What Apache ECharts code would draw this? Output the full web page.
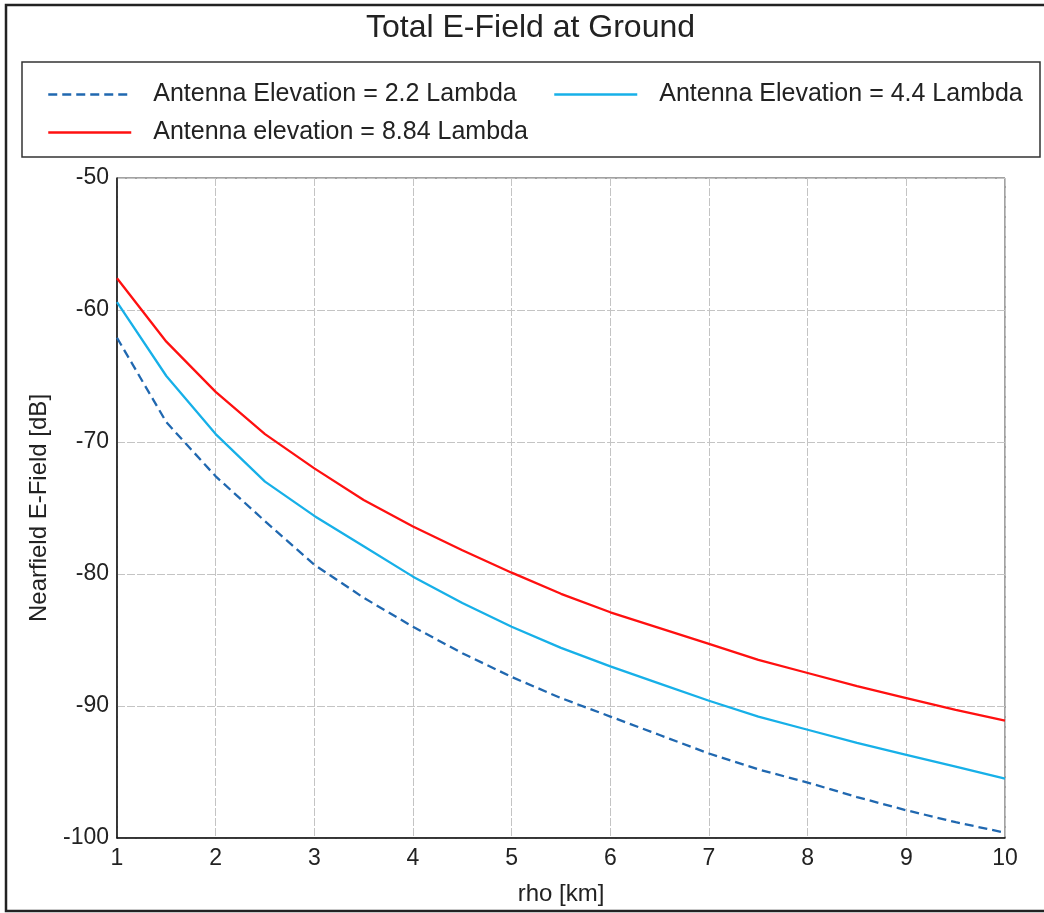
<!DOCTYPE html>
<html>
<head>
<meta charset="utf-8">
<script src="https://cdn.jsdelivr.net/npm/echarts@6/dist/echarts.min.js"></script>
<style>
html,body{margin:0;padding:0;background:#fff;}
#chart{width:1044px;height:913px;}
</style>
</head>
<body>
<div id="chart"></div>
<script>
const rho = [1, 1.5, 2, 2.5, 3, 3.5, 4, 4.5, 5, 5.5, 6, 6.5, 7, 7.5, 8, 8.5, 9, 9.5, 10];
const elev22 = [-62.1, -68.5, -72.6, -76.0, -79.3, -81.8, -84.0, -86.0, -87.8, -89.4, -90.8, -92.2, -93.6, -94.8, -95.8, -96.9, -97.9, -98.8, -99.6];
const elev44 = [-59.4, -65.0, -69.4, -73.0, -75.6, -77.9, -80.2, -82.2, -84.0, -85.6, -87.0, -88.3, -89.6, -90.8, -91.8, -92.8, -93.7, -94.6, -95.5];
const elev884 = [-57.6, -62.4, -66.2, -69.4, -72.0, -74.4, -76.4, -78.2, -79.9, -81.5, -82.9, -84.1, -85.3, -86.5, -87.5, -88.5, -89.4, -90.3, -91.1];
const seriesNames = ['Antenna Elevation = 2.2 Lambda', 'Antenna Elevation = 4.4 Lambda', 'Antenna elevation = 8.84 Lambda'];
const titleText = 'Total E-Field at Ground';
const xName = 'rho [km]';
const yName = 'Nearfield E-Field [dB]';

const pair = (ys) => rho.map((x, i) => [x, ys[i]]);
const font = 'Liberation Sans, Arial, sans-serif';
const legendCommon = {
  orient: 'horizontal', padding: 0, itemWidth: 83, itemHeight: 14,
  itemStyle: { opacity: 0 },
  lineStyle: { width: 2.5 },
  textStyle: { fontFamily: font, fontSize: 25, color: '#222', padding: [0, 0, 0, 17] },
  selectedMode: false
};

const chart = echarts.init(document.getElementById('chart'), null, { renderer: 'canvas' });
chart.setOption({
  backgroundColor: '#fff',
  animation: false,
  title: {
    text: titleText, left: 366, top: 12, padding: 0,
    textStyle: { fontFamily: font, fontSize: 32, fontWeight: 'normal', color: '#222' }
  },
  legend: [
    Object.assign({}, legendCommon, { data: [seriesNames[0]], left: 47, top: 82 }),
    Object.assign({}, legendCommon, { data: [seriesNames[1]], left: 553, top: 82 }),
    Object.assign({}, legendCommon, { data: [seriesNames[2]], left: 47, top: 120 })
  ],
  grid: { left: 117, top: 178, width: 888, height: 660, show: true, borderColor: '#444', borderWidth: 1, containLabel: false },
  xAxis: {
    type: 'value', min: 1, max: 10, interval: 1,
    name: xName, nameLocation: 'middle', nameGap: 44,
    nameTextStyle: { fontFamily: font, fontSize: 24, color: '#222' },
    axisLine: { show: true, onZero: false, lineStyle: { color: '#111', width: 1.5 } },
    axisTick: { show: false },
    axisLabel: { fontFamily: font, fontSize: 23, color: '#222', margin: 9 },
    splitLine: { show: true, lineStyle: { color: '#c4c4c4', width: 1, type: [8, 2] } }
  },
  yAxis: {
    type: 'value', min: -100, max: -50, interval: 10,
    name: yName, nameLocation: 'middle', nameGap: 66, nameRotate: 90,
    nameTextStyle: { fontFamily: font, fontSize: 24, color: '#222' },
    axisLine: { show: true, onZero: false, lineStyle: { color: '#111', width: 1.5 } },
    axisTick: { show: false },
    axisLabel: { fontFamily: font, fontSize: 23, color: '#222', margin: 8 },
    splitLine: { show: true, lineStyle: { color: '#c4c4c4', width: 1, type: [8, 2] } }
  },
  series: [
    { name: seriesNames[0], type: 'line', data: pair(elev22), symbol: 'none', smooth: false,
      color: '#2068b0', lineStyle: { color: '#2068b0', width: 2.3, type: [9, 5] } },
    { name: seriesNames[1], type: 'line', data: pair(elev44), symbol: 'none', smooth: false,
      color: '#17b0e8', lineStyle: { color: '#17b0e8', width: 2.3 } },
    { name: seriesNames[2], type: 'line', data: pair(elev884), symbol: 'none', smooth: false,
      color: '#ff1010', lineStyle: { color: '#ff1010', width: 2.3 } }
  ],
  graphic: [
    { type: 'polyline', silent: true, shape: { points: [[1050, 5], [6, 5], [6, 911], [1050, 911]] },
      style: { stroke: '#222', lineWidth: 2.5, fill: null } },
    { type: 'rect', silent: true, shape: { x: 22, y: 62, width: 1018, height: 95 },
      style: { stroke: '#333', lineWidth: 1.5, fill: null } }
  ]
});
</script>
</body>
</html>
